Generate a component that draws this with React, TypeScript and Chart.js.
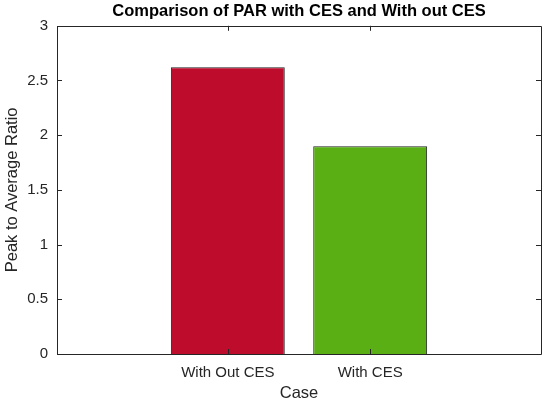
import React, { useEffect, useRef } from "react";
import { Chart, registerables } from "chart.js";

Chart.register(...registerables);

const categories: string[] = ["With Out CES", "With CES"];
const values: number[] = [2.62, 1.9];
const barColors: string[] = ["#BE0C2C", "#5AAF15"];
const yTicks: number[] = [0, 0.5, 1, 1.5, 2, 2.5, 3];
const xPositions: number[] = [1, 2];

const FONT = "'Liberation Sans', Arial, Helvetica, sans-serif";
const AXIS = "#262626";

const boxPlugin = {
  id: "matlabBox",
  afterDraw(chart: any) {
    const { ctx, chartArea } = chart;
    const { left, right, top, bottom } = chartArea;
    const xs = chart.scales.x;
    const ys = chart.scales.y;
    ctx.save();
    ctx.strokeStyle = AXIS;
    ctx.lineWidth = 1;
    ctx.beginPath();
    ctx.rect(Math.round(left) + 0.5, Math.round(top) + 0.5, Math.round(right - left), Math.round(bottom - top));
    ctx.stroke();
    const len = 5;
    ctx.beginPath();
    xs.ticks.forEach((t: any) => {
      const px = Math.round(xs.getPixelForValue(t.value)) + 0.5;
      ctx.moveTo(px, bottom);
      ctx.lineTo(px, bottom - len);
      ctx.moveTo(px, top);
      ctx.lineTo(px, top + len);
    });
    ys.ticks.forEach((t: any) => {
      const py = Math.round(ys.getPixelForValue(t.value)) + 0.5;
      ctx.moveTo(left, py);
      ctx.lineTo(left + len, py);
      ctx.moveTo(right, py);
      ctx.lineTo(right - len, py);
    });
    ctx.stroke();
    ctx.restore();
  },
};

export default function App() {
  const ref = useRef<HTMLCanvasElement | null>(null);
  useEffect(() => {
    if (!ref.current) return;
    const chart = new Chart(ref.current, {
      type: "bar",
      data: {
        datasets: [
          {
            data: categories.map((c, i) => ({ x: xPositions[i], y: values[i] })),
            backgroundColor: barColors,
            borderColor: "#222222",
            borderWidth: 1,
            barPercentage: 0.8,
            categoryPercentage: 1,
          },
        ],
      },
      options: {
        animation: false,
        responsive: true,
        maintainAspectRatio: false,
        devicePixelRatio: 1,
        layout: { padding: { left: 0, right: 9, top: 0, bottom: 0 } },
        plugins: {
          legend: { display: false },
          tooltip: { enabled: false },
          title: {
            display: true,
            fullSize: false,
            text: "Comparison of PAR with CES and With out CES",
            color: "#000000",
            font: { family: FONT, size: 16.5, weight: "bold", lineHeight: 1.2 },
            padding: { top: 2, bottom: 4 },
          },
        },
        scales: {
          x: {
            type: "linear",
            offset: false,
            min: -0.2,
            max: 3.2,
            afterBuildTicks: (scale: any) => {
              scale.ticks = xPositions.map((v) => ({ value: v }));
            },
            afterFit: (scale: any) => {
              scale.height = 54;
            },
            ticks: {
              autoSkip: false,
              maxRotation: 0,
              padding: 10,
              color: AXIS,
              font: { family: FONT, size: 15 },
              callback: (v: any) => {
                const i = xPositions.indexOf(Number(v));
                return i >= 0 ? categories[i] : "";
              },
            },
            grid: { display: false, drawTicks: false },
            border: { display: false },
            title: {
              display: true,
              text: "Case",
              color: AXIS,
              font: { family: FONT, size: 16.5, lineHeight: 1.2 },
              padding: { top: 0, bottom: 4.5 },
            },
          },
          y: {
            type: "linear",
            min: 0,
            max: 3,
            afterBuildTicks: (scale: any) => {
              scale.ticks = yTicks.map((v) => ({ value: v }));
            },
            afterFit: (scale: any) => {
              scale.width = 57;
            },
            ticks: {
              padding: 9,
              color: AXIS,
              font: { family: FONT, size: 15 },
              callback: (v: any) => String(v),
            },
            grid: { display: false, drawTicks: false },
            border: { display: false },
            title: {
              display: true,
              text: "Peak to Average Ratio",
              color: AXIS,
              font: { family: FONT, size: 16.5, lineHeight: 1.2 },
              padding: { top: 3, bottom: 0 },
            },
          },
        },
      },
      plugins: [boxPlugin],
    });
    return () => chart.destroy();
  }, []);
  return (
    <div style={{ position: "fixed", left: 0, top: 0, width: 550, height: 408, background: "#fff" }}>
      <canvas ref={ref} />
    </div>
  );
}
